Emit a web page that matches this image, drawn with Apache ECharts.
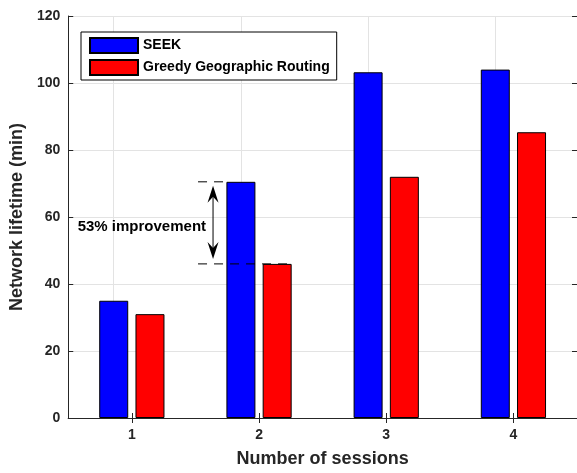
<!DOCTYPE html>
<html>
<head>
<meta charset="utf-8">
<script src="https://cdn.jsdelivr.net/npm/echarts@6/dist/echarts.min.js"></script>
<style>
html,body{margin:0;padding:0;background:#fff;}
#c{width:577px;height:473px;}
</style>
</head>
<body>
<div id="c"></div>
<script>
const categories = ['1', '2', '3', '4'];
const seekValues = [35, 70.5, 103.2, 104];
const greedyValues = [31, 46, 72, 85.3];
const seriesNames = ['SEEK', 'Greedy Geographic Routing'];
const annotationText = '53% improvement';
const annotationCategory = 1;

const FONT = '"Liberation Sans", Arial, Helvetica, sans-serif';
const AX = '#262626';
const GRID = '#e3e3e3';

const chart = echarts.init(document.getElementById('c'), null, {renderer: 'canvas'});

chart.setOption({
  animation: false,
  backgroundColor: '#fff',
  textStyle: {fontFamily: FONT},
  grid: {left: 65, right: -2, top: 16, bottom: 50, containLabel: false},
  legend: {
    orient: 'vertical',
    left: 81, top: 32,
    padding: [5, 7, 4, 8],
    itemGap: 5,
    itemWidth: 48, itemHeight: 15,
    itemTextGap: 5,
    icon: 'rect',
    borderColor: '#000', borderWidth: 1,
    backgroundColor: '#fff',
    textStyle: {fontFamily: FONT, fontWeight: 'bold', fontSize: 14, color: '#000'},
    data: seriesNames
  },
  xAxis: [{
    type: 'category',
    data: categories,
    position: 'bottom',
    name: 'Number of sessions',
    nameLocation: 'middle',
    nameGap: 32,
    nameTextStyle: {fontFamily: FONT, fontWeight: 'bold', fontSize: 18, color: AX},
    axisLine: {show: true, lineStyle: {color: AX, width: 1}},
    axisTick: {show: true, inside: true, alignWithLabel: true, length: 5, lineStyle: {color: AX}},
    axisLabel: {fontFamily: FONT, fontWeight: 'bold', fontSize: 14, color: AX, margin: 10},
    splitLine: {show: false}
  }, {
    type: 'category',
    data: categories,
    position: 'top',
    axisLine: {show: true, lineStyle: {color: AX, width: 1}},
    axisTick: {show: true, inside: true, alignWithLabel: true, length: 5, lineStyle: {color: AX}},
    axisLabel: {show: false},
    splitLine: {show: false}
  }],
  yAxis: [{
    type: 'value',
    min: 0, max: 120, interval: 20,
    name: 'Network lifetime (min)',
    nameLocation: 'middle',
    nameGap: 35,
    nameTextStyle: {fontFamily: FONT, fontWeight: 'bold', fontSize: 18, color: AX},
    axisLine: {show: true, lineStyle: {color: AX, width: 1}},
    axisTick: {show: true, inside: true, length: 5, lineStyle: {color: AX}},
    axisLabel: {fontFamily: FONT, fontWeight: 'bold', fontSize: 14, color: AX, margin: 8},
    splitLine: {show: true, lineStyle: {color: GRID, width: 1}}
  }, {
    type: 'value',
    min: 0, max: 120, interval: 20,
    position: 'right',
    axisLine: {show: true, lineStyle: {color: AX, width: 1}},
    axisTick: {show: true, inside: true, length: 5, lineStyle: {color: AX}},
    axisLabel: {show: false},
    splitLine: {show: false}
  }],
  series: [{
    name: seriesNames[0],
    type: 'bar',
    z: 3,
    data: seekValues,
    barWidth: 29,
    barGap: '25%',
    itemStyle: {color: '#0000ff', borderColor: '#000', borderWidth: 1},
    markLine: {
      silent: true,
      z: 1,
      symbol: ['none', 'none'],
      label: {show: false},
      emphasis: {disabled: true},
      lineStyle: {color: GRID, width: 1, type: 'solid'},
      data: categories.map(function (c) { return {xAxis: c}; })
    }
  }, {
    name: seriesNames[1],
    type: 'bar',
    z: 3,
    data: greedyValues,
    barWidth: 29,
    barGap: '25%',
    itemStyle: {color: '#ff0000', borderColor: '#000', borderWidth: 1}
  }]
});

// Annotation derived from the data via the chart's scales
const xc = chart.convertToPixel({xAxisIndex: 0}, categories[annotationCategory]);
const yTop = chart.convertToPixel({yAxisIndex: 0}, seekValues[annotationCategory]);
const yBot = chart.convertToPixel({yAxisIndex: 0}, greedyValues[annotationCategory]);
const ax = xc - 46;
const dashStart = xc - 61;
const blueLeft = xc - 33;
const redRight = xc + 33;
const tipTop = yTop + 4, tipBot = yBot - 5;

chart.setOption({
  graphic: [
    {type: 'line', silent: true, z: 100,
     shape: {x1: dashStart, y1: yTop, x2: blueLeft, y2: yTop},
     style: {stroke: '#000', lineWidth: 1, lineDash: [9, 7]}},
    {type: 'line', silent: true, z: 100,
     shape: {x1: dashStart, y1: yBot, x2: redRight, y2: yBot},
     style: {stroke: '#000', lineWidth: 1, lineDash: [9, 7]}},
    {type: 'line', silent: true, z: 100,
     shape: {x1: ax, y1: tipTop + 8, x2: ax, y2: tipBot - 8},
     style: {stroke: '#000', lineWidth: 1}},
    {type: 'polygon', silent: true, z: 100,
     shape: {points: [[ax, tipTop], [ax - 5.5, tipTop + 17], [ax, tipTop + 11], [ax + 5.5, tipTop + 17]]},
     style: {fill: '#000'}},
    {type: 'polygon', silent: true, z: 100,
     shape: {points: [[ax, tipBot], [ax - 5.5, tipBot - 17], [ax, tipBot - 11], [ax + 5.5, tipBot - 17]]},
     style: {fill: '#000'}},
    {type: 'text', silent: true, z: 100,
     x: ax - 7, y: (yTop + yBot) / 2 + 4,
     style: {text: annotationText, fill: '#000', font: 'bold 15px ' + FONT,
             textAlign: 'right', textVerticalAlign: 'middle'}}
  ]
});
</script>
</body>
</html>
